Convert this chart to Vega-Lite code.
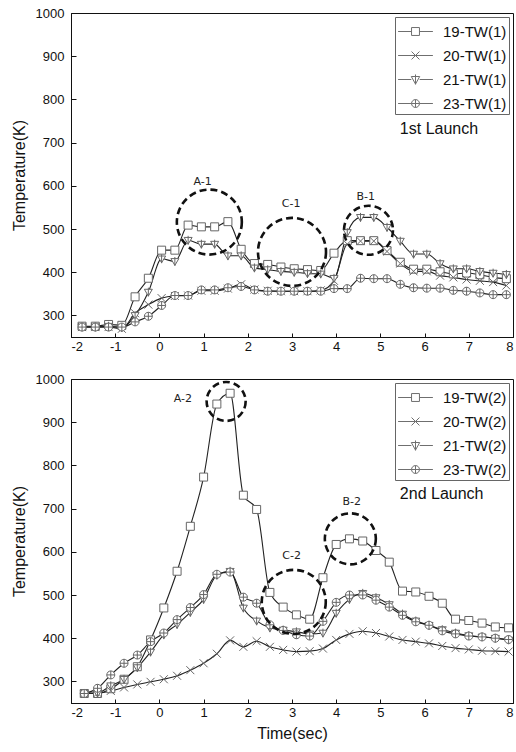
{
"$schema": "https://vega.github.io/schema/vega-lite/v6.json",
"padding": {"left": 10, "top": 6, "right": 0, "bottom": 0},
"spacing": 18,
"datasets": {
"temps": [
{"launch":1,"sensor":"19","time":-1.75,"temp":275},{"launch":1,"sensor":"19","time":-1.45,"temp":275},{"launch":1,"sensor":"19","time":-1.15,"temp":279},{"launch":1,"sensor":"19","time":-0.85,"temp":277},{"launch":1,"sensor":"19","time":-0.55,"temp":343},{"launch":1,"sensor":"19","time":-0.25,"temp":386},{"launch":1,"sensor":"19","time":0.05,"temp":451},{"launch":1,"sensor":"19","time":0.35,"temp":451},{"launch":1,"sensor":"19","time":0.65,"temp":509},{"launch":1,"sensor":"19","time":0.95,"temp":505},{"launch":1,"sensor":"19","time":1.25,"temp":505},{"launch":1,"sensor":"19","time":1.55,"temp":517},{"launch":1,"sensor":"19","time":1.85,"temp":453},{"launch":1,"sensor":"19","time":2.15,"temp":420},{"launch":1,"sensor":"19","time":2.45,"temp":418},{"launch":1,"sensor":"19","time":2.75,"temp":412},{"launch":1,"sensor":"19","time":3.05,"temp":408},{"launch":1,"sensor":"19","time":3.35,"temp":406},{"launch":1,"sensor":"19","time":3.65,"temp":404},{"launch":1,"sensor":"19","time":3.95,"temp":444},{"launch":1,"sensor":"19","time":4.25,"temp":473},{"launch":1,"sensor":"19","time":4.55,"temp":473},{"launch":1,"sensor":"19","time":4.85,"temp":473},{"launch":1,"sensor":"19","time":5.15,"temp":450},{"launch":1,"sensor":"19","time":5.45,"temp":423},{"launch":1,"sensor":"19","time":5.75,"temp":407},{"launch":1,"sensor":"19","time":6.05,"temp":407},{"launch":1,"sensor":"19","time":6.35,"temp":401},{"launch":1,"sensor":"19","time":6.65,"temp":396},{"launch":1,"sensor":"19","time":6.95,"temp":398},{"launch":1,"sensor":"19","time":7.25,"temp":394},{"launch":1,"sensor":"19","time":7.55,"temp":388},{"launch":1,"sensor":"19","time":7.85,"temp":385},
{"launch":1,"sensor":"20","time":-1.75,"temp":273},{"launch":1,"sensor":"20","time":-1.45,"temp":273},{"launch":1,"sensor":"20","time":-1.15,"temp":273},{"launch":1,"sensor":"20","time":-0.85,"temp":269},{"launch":1,"sensor":"20","time":-0.55,"temp":305},{"launch":1,"sensor":"20","time":-0.25,"temp":325},{"launch":1,"sensor":"20","time":0.05,"temp":340},{"launch":1,"sensor":"20","time":0.35,"temp":345},{"launch":1,"sensor":"20","time":0.65,"temp":346},{"launch":1,"sensor":"20","time":0.95,"temp":357},{"launch":1,"sensor":"20","time":1.25,"temp":357},{"launch":1,"sensor":"20","time":1.55,"temp":362},{"launch":1,"sensor":"20","time":1.85,"temp":372},{"launch":1,"sensor":"20","time":2.15,"temp":360},{"launch":1,"sensor":"20","time":2.45,"temp":357},{"launch":1,"sensor":"20","time":2.75,"temp":356},{"launch":1,"sensor":"20","time":3.05,"temp":356},{"launch":1,"sensor":"20","time":3.35,"temp":356},{"launch":1,"sensor":"20","time":3.65,"temp":358},{"launch":1,"sensor":"20","time":3.95,"temp":380},{"launch":1,"sensor":"20","time":4.25,"temp":465},{"launch":1,"sensor":"20","time":4.55,"temp":472},{"launch":1,"sensor":"20","time":4.85,"temp":472},{"launch":1,"sensor":"20","time":5.15,"temp":448},{"launch":1,"sensor":"20","time":5.45,"temp":420},{"launch":1,"sensor":"20","time":5.75,"temp":402},{"launch":1,"sensor":"20","time":6.05,"temp":402},{"launch":1,"sensor":"20","time":6.35,"temp":392},{"launch":1,"sensor":"20","time":6.65,"temp":388},{"launch":1,"sensor":"20","time":6.95,"temp":383},{"launch":1,"sensor":"20","time":7.25,"temp":380},{"launch":1,"sensor":"20","time":7.55,"temp":377},{"launch":1,"sensor":"20","time":7.85,"temp":369},
{"launch":1,"sensor":"21","time":-1.75,"temp":273},{"launch":1,"sensor":"21","time":-1.45,"temp":273},{"launch":1,"sensor":"21","time":-1.15,"temp":275},{"launch":1,"sensor":"21","time":-0.85,"temp":272},{"launch":1,"sensor":"21","time":-0.55,"temp":300},{"launch":1,"sensor":"21","time":-0.25,"temp":354},{"launch":1,"sensor":"21","time":0.05,"temp":431},{"launch":1,"sensor":"21","time":0.35,"temp":425},{"launch":1,"sensor":"21","time":0.65,"temp":474},{"launch":1,"sensor":"21","time":0.95,"temp":465},{"launch":1,"sensor":"21","time":1.25,"temp":465},{"launch":1,"sensor":"21","time":1.55,"temp":438},{"launch":1,"sensor":"21","time":1.85,"temp":438},{"launch":1,"sensor":"21","time":2.15,"temp":410},{"launch":1,"sensor":"21","time":2.45,"temp":406},{"launch":1,"sensor":"21","time":2.75,"temp":402},{"launch":1,"sensor":"21","time":3.05,"temp":400},{"launch":1,"sensor":"21","time":3.35,"temp":397},{"launch":1,"sensor":"21","time":3.65,"temp":396},{"launch":1,"sensor":"21","time":3.95,"temp":386},{"launch":1,"sensor":"21","time":4.25,"temp":492},{"launch":1,"sensor":"21","time":4.55,"temp":527},{"launch":1,"sensor":"21","time":4.85,"temp":527},{"launch":1,"sensor":"21","time":5.15,"temp":504},{"launch":1,"sensor":"21","time":5.45,"temp":472},{"launch":1,"sensor":"21","time":5.75,"temp":442},{"launch":1,"sensor":"21","time":6.05,"temp":442},{"launch":1,"sensor":"21","time":6.35,"temp":420},{"launch":1,"sensor":"21","time":6.65,"temp":408},{"launch":1,"sensor":"21","time":6.95,"temp":408},{"launch":1,"sensor":"21","time":7.25,"temp":402},{"launch":1,"sensor":"21","time":7.55,"temp":398},{"launch":1,"sensor":"21","time":7.85,"temp":395},
{"launch":1,"sensor":"23","time":-1.75,"temp":273},{"launch":1,"sensor":"23","time":-1.45,"temp":273},{"launch":1,"sensor":"23","time":-1.15,"temp":273},{"launch":1,"sensor":"23","time":-0.85,"temp":273},{"launch":1,"sensor":"23","time":-0.55,"temp":285},{"launch":1,"sensor":"23","time":-0.25,"temp":298},{"launch":1,"sensor":"23","time":0.05,"temp":323},{"launch":1,"sensor":"23","time":0.35,"temp":346},{"launch":1,"sensor":"23","time":0.65,"temp":346},{"launch":1,"sensor":"23","time":0.95,"temp":359},{"launch":1,"sensor":"23","time":1.25,"temp":359},{"launch":1,"sensor":"23","time":1.55,"temp":364},{"launch":1,"sensor":"23","time":1.85,"temp":367},{"launch":1,"sensor":"23","time":2.15,"temp":359},{"launch":1,"sensor":"23","time":2.45,"temp":356},{"launch":1,"sensor":"23","time":2.75,"temp":356},{"launch":1,"sensor":"23","time":3.05,"temp":356},{"launch":1,"sensor":"23","time":3.35,"temp":356},{"launch":1,"sensor":"23","time":3.65,"temp":356},{"launch":1,"sensor":"23","time":3.95,"temp":362},{"launch":1,"sensor":"23","time":4.25,"temp":362},{"launch":1,"sensor":"23","time":4.55,"temp":386},{"launch":1,"sensor":"23","time":4.85,"temp":385},{"launch":1,"sensor":"23","time":5.15,"temp":385},{"launch":1,"sensor":"23","time":5.45,"temp":372},{"launch":1,"sensor":"23","time":5.75,"temp":364},{"launch":1,"sensor":"23","time":6.05,"temp":363},{"launch":1,"sensor":"23","time":6.35,"temp":363},{"launch":1,"sensor":"23","time":6.65,"temp":358},{"launch":1,"sensor":"23","time":6.95,"temp":356},{"launch":1,"sensor":"23","time":7.25,"temp":352},{"launch":1,"sensor":"23","time":7.55,"temp":348},{"launch":1,"sensor":"23","time":7.85,"temp":348},
{"launch":2,"sensor":"19","time":-1.7,"temp":272},{"launch":2,"sensor":"19","time":-1.4,"temp":272},{"launch":2,"sensor":"19","time":-1.1,"temp":283},{"launch":2,"sensor":"19","time":-0.8,"temp":305},{"launch":2,"sensor":"19","time":-0.5,"temp":334},{"launch":2,"sensor":"19","time":-0.2,"temp":396},{"launch":2,"sensor":"19","time":0.1,"temp":470},{"launch":2,"sensor":"19","time":0.4,"temp":555},{"launch":2,"sensor":"19","time":0.7,"temp":659},{"launch":2,"sensor":"19","time":1.0,"temp":773},{"launch":2,"sensor":"19","time":1.3,"temp":942},{"launch":2,"sensor":"19","time":1.6,"temp":967},{"launch":2,"sensor":"19","time":1.9,"temp":731},{"launch":2,"sensor":"19","time":2.2,"temp":698},{"launch":2,"sensor":"19","time":2.5,"temp":506},{"launch":2,"sensor":"19","time":2.8,"temp":472},{"launch":2,"sensor":"19","time":3.1,"temp":454},{"launch":2,"sensor":"19","time":3.4,"temp":444},{"launch":2,"sensor":"19","time":3.7,"temp":540},{"launch":2,"sensor":"19","time":4.0,"temp":617},{"launch":2,"sensor":"19","time":4.3,"temp":630},{"launch":2,"sensor":"19","time":4.6,"temp":625},{"launch":2,"sensor":"19","time":4.9,"temp":603},{"launch":2,"sensor":"19","time":5.2,"temp":576},{"launch":2,"sensor":"19","time":5.5,"temp":509},{"launch":2,"sensor":"19","time":5.8,"temp":507},{"launch":2,"sensor":"19","time":6.1,"temp":497},{"launch":2,"sensor":"19","time":6.4,"temp":481},{"launch":2,"sensor":"19","time":6.7,"temp":444},{"launch":2,"sensor":"19","time":7.0,"temp":441},{"launch":2,"sensor":"19","time":7.3,"temp":435},{"launch":2,"sensor":"19","time":7.6,"temp":426},{"launch":2,"sensor":"19","time":7.9,"temp":424},
{"launch":2,"sensor":"20","time":-1.7,"temp":273},{"launch":2,"sensor":"20","time":-1.4,"temp":273},{"launch":2,"sensor":"20","time":-1.1,"temp":278},{"launch":2,"sensor":"20","time":-0.8,"temp":286},{"launch":2,"sensor":"20","time":-0.5,"temp":293},{"launch":2,"sensor":"20","time":-0.2,"temp":299},{"launch":2,"sensor":"20","time":0.1,"temp":305},{"launch":2,"sensor":"20","time":0.4,"temp":313},{"launch":2,"sensor":"20","time":0.7,"temp":326},{"launch":2,"sensor":"20","time":1.0,"temp":342},{"launch":2,"sensor":"20","time":1.3,"temp":364},{"launch":2,"sensor":"20","time":1.6,"temp":395},{"launch":2,"sensor":"20","time":1.9,"temp":380},{"launch":2,"sensor":"20","time":2.2,"temp":393},{"launch":2,"sensor":"20","time":2.5,"temp":380},{"launch":2,"sensor":"20","time":2.8,"temp":373},{"launch":2,"sensor":"20","time":3.1,"temp":369},{"launch":2,"sensor":"20","time":3.4,"temp":370},{"launch":2,"sensor":"20","time":3.7,"temp":376},{"launch":2,"sensor":"20","time":4.0,"temp":396},{"launch":2,"sensor":"20","time":4.3,"temp":410},{"launch":2,"sensor":"20","time":4.6,"temp":416},{"launch":2,"sensor":"20","time":4.9,"temp":412},{"launch":2,"sensor":"20","time":5.2,"temp":404},{"launch":2,"sensor":"20","time":5.5,"temp":396},{"launch":2,"sensor":"20","time":5.8,"temp":392},{"launch":2,"sensor":"20","time":6.1,"temp":388},{"launch":2,"sensor":"20","time":6.4,"temp":382},{"launch":2,"sensor":"20","time":6.7,"temp":377},{"launch":2,"sensor":"20","time":7.0,"temp":374},{"launch":2,"sensor":"20","time":7.3,"temp":371},{"launch":2,"sensor":"20","time":7.6,"temp":370},{"launch":2,"sensor":"20","time":7.9,"temp":369},
{"launch":2,"sensor":"21","time":-1.7,"temp":272},{"launch":2,"sensor":"21","time":-1.4,"temp":273},{"launch":2,"sensor":"21","time":-1.1,"temp":290},{"launch":2,"sensor":"21","time":-0.8,"temp":305},{"launch":2,"sensor":"21","time":-0.5,"temp":332},{"launch":2,"sensor":"21","time":-0.2,"temp":368},{"launch":2,"sensor":"21","time":0.1,"temp":408},{"launch":2,"sensor":"21","time":0.4,"temp":432},{"launch":2,"sensor":"21","time":0.7,"temp":460},{"launch":2,"sensor":"21","time":1.0,"temp":490},{"launch":2,"sensor":"21","time":1.3,"temp":546},{"launch":2,"sensor":"21","time":1.6,"temp":555},{"launch":2,"sensor":"21","time":1.9,"temp":470},{"launch":2,"sensor":"21","time":2.2,"temp":440},{"launch":2,"sensor":"21","time":2.5,"temp":424},{"launch":2,"sensor":"21","time":2.8,"temp":419},{"launch":2,"sensor":"21","time":3.1,"temp":415},{"launch":2,"sensor":"21","time":3.4,"temp":410},{"launch":2,"sensor":"21","time":3.7,"temp":412},{"launch":2,"sensor":"21","time":4.0,"temp":458},{"launch":2,"sensor":"21","time":4.3,"temp":490},{"launch":2,"sensor":"21","time":4.6,"temp":504},{"launch":2,"sensor":"21","time":4.9,"temp":494},{"launch":2,"sensor":"21","time":5.2,"temp":478},{"launch":2,"sensor":"21","time":5.5,"temp":456},{"launch":2,"sensor":"21","time":5.8,"temp":440},{"launch":2,"sensor":"21","time":6.1,"temp":430},{"launch":2,"sensor":"21","time":6.4,"temp":420},{"launch":2,"sensor":"21","time":6.7,"temp":412},{"launch":2,"sensor":"21","time":7.0,"temp":406},{"launch":2,"sensor":"21","time":7.3,"temp":403},{"launch":2,"sensor":"21","time":7.6,"temp":400},{"launch":2,"sensor":"21","time":7.9,"temp":396},
{"launch":2,"sensor":"23","time":-1.7,"temp":272},{"launch":2,"sensor":"23","time":-1.4,"temp":284},{"launch":2,"sensor":"23","time":-1.1,"temp":315},{"launch":2,"sensor":"23","time":-0.8,"temp":342},{"launch":2,"sensor":"23","time":-0.5,"temp":361},{"launch":2,"sensor":"23","time":-0.2,"temp":392},{"launch":2,"sensor":"23","time":0.1,"temp":412},{"launch":2,"sensor":"23","time":0.4,"temp":443},{"launch":2,"sensor":"23","time":0.7,"temp":471},{"launch":2,"sensor":"23","time":1.0,"temp":501},{"launch":2,"sensor":"23","time":1.3,"temp":548},{"launch":2,"sensor":"23","time":1.6,"temp":553},{"launch":2,"sensor":"23","time":1.9,"temp":495},{"launch":2,"sensor":"23","time":2.2,"temp":481},{"launch":2,"sensor":"23","time":2.5,"temp":431},{"launch":2,"sensor":"23","time":2.8,"temp":418},{"launch":2,"sensor":"23","time":3.1,"temp":408},{"launch":2,"sensor":"23","time":3.4,"temp":405},{"launch":2,"sensor":"23","time":3.7,"temp":439},{"launch":2,"sensor":"23","time":4.0,"temp":483},{"launch":2,"sensor":"23","time":4.3,"temp":500},{"launch":2,"sensor":"23","time":4.6,"temp":500},{"launch":2,"sensor":"23","time":4.9,"temp":488},{"launch":2,"sensor":"23","time":5.2,"temp":472},{"launch":2,"sensor":"23","time":5.5,"temp":453},{"launch":2,"sensor":"23","time":5.8,"temp":438},{"launch":2,"sensor":"23","time":6.1,"temp":430},{"launch":2,"sensor":"23","time":6.4,"temp":417},{"launch":2,"sensor":"23","time":6.7,"temp":410},{"launch":2,"sensor":"23","time":7.0,"temp":405},{"launch":2,"sensor":"23","time":7.3,"temp":403},{"launch":2,"sensor":"23","time":7.6,"temp":400},{"launch":2,"sensor":"23","time":7.9,"temp":397}
],
"regions": [
{"launch":1,"region":"A-1","time":1.13,"temp":516},
{"launch":1,"region":"C-1","time":3.0,"temp":447},
{"launch":1,"region":"B-1","time":4.73,"temp":497},
{"launch":2,"region":"A-2","time":1.51,"temp":948},
{"launch":2,"region":"C-2","time":3.04,"temp":484},
{"launch":2,"region":"B-2","time":4.32,"temp":630}
],
"notes": [
{"launch":1,"kind":"region","text":"A-1","time":0.98,"temp":609},
{"launch":1,"kind":"region","text":"C-1","time":2.98,"temp":557},
{"launch":1,"kind":"region","text":"B-1","time":4.67,"temp":574},
{"launch":2,"kind":"region","text":"A-2","time":0.53,"temp":954},
{"launch":2,"kind":"region","text":"C-2","time":2.99,"temp":590},
{"launch":2,"kind":"region","text":"B-2","time":4.35,"temp":715},
{"launch":1,"kind":"launch","text":"1st Launch","time":5.44,"temp":732},
{"launch":2,"kind":"launch","text":"2nd Launch","time":5.44,"temp":733}
]
},
"vconcat": [
{
"width": 442, "height": 324,
"resolve": {"scale": {"shape": "independent"}},
"layer": [
{"data":{"name":"temps"},"transform":[{"filter":"datum.launch === 1"}],
 "mark":{"type":"line","interpolate":"monotone","stroke":"#222","strokeWidth":1.1,"clip":true},
 "encoding":{
  "x":{"field":"time","type":"quantitative","scale":{"domain":[-2,8],"nice":false},
   "axis":{"title":null,"values":[-2,-1.5,-1,-0.5,0,0.5,1,1.5,2,2.5,3,3.5,4,4.5,5,5.5,6,6.5,7,7.5,8],"labelExpr":"datum.value % 1 === 0 ? '' + datum.value : ''","labelOverlap":false,"tickSize":-4,"labelPadding":7}},
  "y":{"field":"temp","type":"quantitative","scale":{"domain":[250,1000],"nice":false,"zero":false},
   "axis":{"title":"Temperature(K)","values":[300,400,500,600,700,800,900,1000],"format":"d","tickSize":-5,"labelPadding":12,"titlePadding":8}},
  "detail":{"field":"sensor"}
 }},
{"data":{"name":"temps"},"transform":[{"filter":"datum.launch === 1"}],
 "mark":{"type":"point","size":64,"stroke":"#666","strokeWidth":1,"fill":"white","fillOpacity":1,"opacity":1,"clip":true},
 "encoding":{
  "x":{"field":"time","type":"quantitative"},
  "y":{"field":"temp","type":"quantitative"},
  "shape":{"field":"sensor","type":"nominal",
   "scale":{"domain":["19","20","21","23"],"range":["square","M-1,-1L1,1M-1,1L1,-1","M-1,-0.7H1L0,1ZM0,-1.1V1.1","M-1,0A1,1 0 1,1 1,0A1,1 0 1,1 -1,0ZM-1,0H1M0,-1V1"]},
   "legend":null}
 }},
{"data":{"name":"temps"},"transform":[{"filter":"datum.launch === 0"}],
 "mark":{"type":"point","filled":false,"color":"#333","strokeWidth":1},
 "encoding":{
  "x":{"field":"time","type":"quantitative"},
  "y":{"field":"temp","type":"quantitative"},
  "shape":{"field":"sensor","type":"nominal",
   "scale":{"domain":["19","20","21","23"],"range":["M-1.45,0H-0.33M0.33,0H1.45M-0.33,-0.33H0.33V0.33H-0.33Z","M-1.45,0H1.45M-0.33,-0.33L0.33,0.33M-0.33,0.33L0.33,-0.33","M-1.45,0H-0.35M0.35,0H1.45M-0.35,-0.25H0.35L0,0.38ZM0,-0.42V0.42","M-1.45,0H-0.33M0.33,0H1.45M-0.33,0A0.33,0.33 0 1,1 0.33,0A0.33,0.33 0 1,1 -0.33,0ZM-0.33,0H0.33M0,-0.33V0.33"]},
   "legend":{"title":null,"orient":"top-right","offset":4,"labelExpr":"datum.label + '-TW(1)'","symbolSize":576,"symbolStrokeWidth":1,"symbolStrokeColor":"#333","symbolOffset":6,"labelOffset":15,"rowPadding":3,"padding":2,"labelFontSize":15}}
 }},
{"data":{"name":"regions"},"transform":[{"filter":"datum.region === 'A-1'"}],
 "mark":{"type":"point","shape":"circle","size":4225,"filled":false,"stroke":"#111","strokeWidth":2.6,"strokeDash":[7,4],"opacity":1},
 "encoding":{"x":{"field":"time","type":"quantitative"},"y":{"field":"temp","type":"quantitative"}}},
{"data":{"name":"regions"},"transform":[{"filter":"datum.region === 'C-1'"}],
 "mark":{"type":"point","shape":"circle","size":4624,"filled":false,"stroke":"#111","strokeWidth":2.6,"strokeDash":[7,4],"opacity":1},
 "encoding":{"x":{"field":"time","type":"quantitative"},"y":{"field":"temp","type":"quantitative"}}},
{"data":{"name":"regions"},"transform":[{"filter":"datum.region === 'B-1'"}],
 "mark":{"type":"point","shape":"circle","size":2401,"filled":false,"stroke":"#111","strokeWidth":2.6,"strokeDash":[7,4],"opacity":1},
 "encoding":{"x":{"field":"time","type":"quantitative"},"y":{"field":"temp","type":"quantitative"}}},
{"data":{"name":"notes"},"transform":[{"filter":"datum.launch === 1 && datum.kind === 'region'"}],
 "mark":{"type":"text","font":"DejaVu Sans","fontSize":11,"color":"#222","align":"center","baseline":"middle"},
 "encoding":{"x":{"field":"time","type":"quantitative"},"y":{"field":"temp","type":"quantitative"},"text":{"field":"text"}}},
{"data":{"name":"notes"},"transform":[{"filter":"datum.launch === 1 && datum.kind === 'launch'"}],
 "mark":{"type":"text","font":"Liberation Sans","fontSize":16,"color":"#111","align":"left","baseline":"middle"},
 "encoding":{"x":{"field":"time","type":"quantitative"},"y":{"field":"temp","type":"quantitative"},"text":{"field":"text"}}}
]
},
{
"width": 442, "height": 324,
"resolve": {"scale": {"shape": "independent"}},
"layer": [
{"data":{"name":"temps"},"transform":[{"filter":"datum.launch === 2"}],
 "mark":{"type":"line","interpolate":"monotone","stroke":"#222","strokeWidth":1.1,"clip":true},
 "encoding":{
  "x":{"field":"time","type":"quantitative","scale":{"domain":[-2,8],"nice":false},
   "axis":{"title":"Time(sec)","values":[-2,-1.5,-1,-0.5,0,0.5,1,1.5,2,2.5,3,3.5,4,4.5,5,5.5,6,6.5,7,7.5,8],"labelExpr":"datum.value % 1 === 0 ? '' + datum.value : ''","labelOverlap":false,"tickSize":-4,"labelPadding":7,"titlePadding":6}},
  "y":{"field":"temp","type":"quantitative","scale":{"domain":[250,1000],"nice":false,"zero":false},
   "axis":{"title":"Temperature(K)","values":[300,400,500,600,700,800,900,1000],"format":"d","tickSize":-5,"labelPadding":12,"titlePadding":8}},
  "detail":{"field":"sensor"}
 }},
{"data":{"name":"temps"},"transform":[{"filter":"datum.launch === 2"}],
 "mark":{"type":"point","size":64,"stroke":"#666","strokeWidth":1,"fill":"white","fillOpacity":1,"opacity":1,"clip":true},
 "encoding":{
  "x":{"field":"time","type":"quantitative"},
  "y":{"field":"temp","type":"quantitative"},
  "shape":{"field":"sensor","type":"nominal",
   "scale":{"domain":["19","20","21","23"],"range":["square","M-1,-1L1,1M-1,1L1,-1","M-1,-0.7H1L0,1ZM0,-1.1V1.1","M-1,0A1,1 0 1,1 1,0A1,1 0 1,1 -1,0ZM-1,0H1M0,-1V1"]},
   "legend":null}
 }},
{"data":{"name":"temps"},"transform":[{"filter":"datum.launch === 0"}],
 "mark":{"type":"point","filled":false,"color":"#333","strokeWidth":1},
 "encoding":{
  "x":{"field":"time","type":"quantitative"},
  "y":{"field":"temp","type":"quantitative"},
  "shape":{"field":"sensor","type":"nominal",
   "scale":{"domain":["19","20","21","23"],"range":["M-1.45,0H-0.33M0.33,0H1.45M-0.33,-0.33H0.33V0.33H-0.33Z","M-1.45,0H1.45M-0.33,-0.33L0.33,0.33M-0.33,0.33L0.33,-0.33","M-1.45,0H-0.35M0.35,0H1.45M-0.35,-0.25H0.35L0,0.38ZM0,-0.42V0.42","M-1.45,0H-0.33M0.33,0H1.45M-0.33,0A0.33,0.33 0 1,1 0.33,0A0.33,0.33 0 1,1 -0.33,0ZM-0.33,0H0.33M0,-0.33V0.33"]},
   "legend":{"title":null,"orient":"top-right","offset":4,"labelExpr":"datum.label + '-TW(2)'","symbolSize":576,"symbolStrokeWidth":1,"symbolStrokeColor":"#333","symbolOffset":6,"labelOffset":15,"rowPadding":3,"padding":2,"labelFontSize":15}}
 }},
{"data":{"name":"regions"},"transform":[{"filter":"datum.region === 'A-2'"}],
 "mark":{"type":"point","shape":"circle","size":1521,"filled":false,"stroke":"#111","strokeWidth":2.6,"strokeDash":[7,4],"opacity":1},
 "encoding":{"x":{"field":"time","type":"quantitative"},"y":{"field":"temp","type":"quantitative"}}},
{"data":{"name":"regions"},"transform":[{"filter":"datum.region === 'C-2'"}],
 "mark":{"type":"point","shape":"circle","size":4096,"filled":false,"stroke":"#111","strokeWidth":2.6,"strokeDash":[7,4],"opacity":1},
 "encoding":{"x":{"field":"time","type":"quantitative"},"y":{"field":"temp","type":"quantitative"}}},
{"data":{"name":"regions"},"transform":[{"filter":"datum.region === 'B-2'"}],
 "mark":{"type":"point","shape":"circle","size":2601,"filled":false,"stroke":"#111","strokeWidth":2.6,"strokeDash":[7,4],"opacity":1},
 "encoding":{"x":{"field":"time","type":"quantitative"},"y":{"field":"temp","type":"quantitative"}}},
{"data":{"name":"notes"},"transform":[{"filter":"datum.launch === 2 && datum.kind === 'region'"}],
 "mark":{"type":"text","font":"DejaVu Sans","fontSize":11,"color":"#222","align":"center","baseline":"middle"},
 "encoding":{"x":{"field":"time","type":"quantitative"},"y":{"field":"temp","type":"quantitative"},"text":{"field":"text"}}},
{"data":{"name":"notes"},"transform":[{"filter":"datum.launch === 2 && datum.kind === 'launch'"}],
 "mark":{"type":"text","font":"Liberation Sans","fontSize":16,"color":"#111","align":"left","baseline":"middle"},
 "encoding":{"x":{"field":"time","type":"quantitative"},"y":{"field":"temp","type":"quantitative"},"text":{"field":"text"}}}
]
}
],
"resolve": {"scale": {"shape": "independent"}, "legend": {"shape": "independent"}},
"config": {
 "view": {"stroke": "#111", "strokeWidth": 1},
 "axis": {"domainColor": "#111", "domainWidth": 1, "tickColor": "#111", "tickWidth": 1, "labelFont": "Liberation Sans", "labelFontSize": 13, "labelColor": "#111", "titleFont": "Liberation Sans", "titleFontSize": 16, "titleFontWeight": "normal", "titleColor": "#111", "grid": false},
 "legend": {"labelFont": "Liberation Sans", "labelFontSize": 15, "labelColor": "#111", "strokeColor": "#666", "fillColor": "white"}
}
}
